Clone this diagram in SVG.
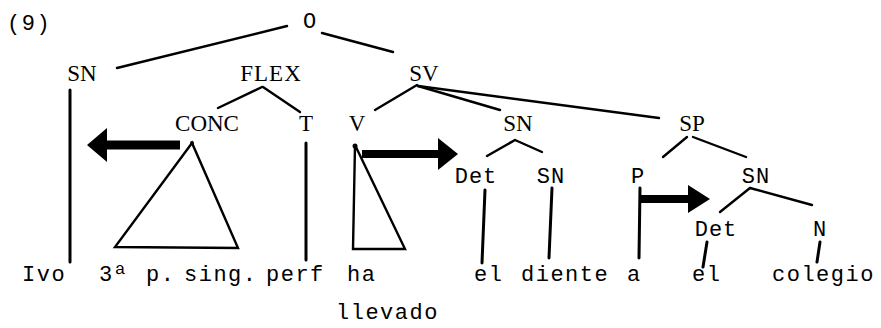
<svg xmlns="http://www.w3.org/2000/svg" width="881" height="328" viewBox="0 0 881 328">
<style>
.serif{font-family:"Liberation Serif","Times New Roman",serif;font-size:23px;fill:#000;text-anchor:middle}
.mono{font-family:"Liberation Mono","Courier New",monospace;font-size:22px;fill:#000;letter-spacing:1.5px}
.monoc{font-family:"Liberation Mono","Courier New",monospace;font-size:22px;fill:#000;text-anchor:middle;letter-spacing:1px}
.ln{stroke:#000;stroke-width:2.4;fill:none;stroke-linecap:round}
.vl{stroke:#000;stroke-width:3;fill:none;stroke-linecap:round}
.arr{fill:#000;stroke:none}
</style>
<rect width="881" height="328" fill="#fff"/>
<text class="mono" x="7" y="30">(9)</text>
<g id="n-O"><text class="monoc" x="310" y="28">O</text></g>
<g id="n-SN1"><text class="serif" x="82" y="81">SN</text></g>
<g id="n-FLEX"><text class="serif" x="271" y="81" style="letter-spacing:1px">FLEX</text></g>
<g id="n-SV"><text class="serif" x="424" y="81">SV</text></g>
<g id="n-CONC"><text class="serif" x="207" y="131">CONC</text></g>
<g id="n-T"><text class="serif" x="306" y="131">T</text></g>
<g id="n-V"><text class="serif" x="357" y="131">V</text></g>
<g id="n-SN2"><text class="serif" x="518" y="131">SN</text></g>
<g id="n-SP"><text class="serif" x="692" y="131">SP</text></g>
<g id="n-Det1"><text class="monoc" x="476" y="183">Det</text></g>
<g id="n-SN3"><text class="monoc" x="551" y="183">SN</text></g>
<g id="n-P"><text class="monoc" x="638" y="183">P</text></g>
<g id="n-SN4"><text class="monoc" x="756" y="183">SN</text></g>
<g id="n-Det2"><text class="monoc" x="716" y="236">Det</text></g>
<g id="n-N"><text class="monoc" x="820" y="236">N</text></g>
<g id="leaves">
<text class="mono" x="22" y="281">Ivo</text>
<text class="mono" x="99" y="281">3ª</text>
<text class="mono" x="146" y="281">p.</text>
<text class="mono" x="184" y="281">sing.</text>
<text class="mono" x="266" y="281">perf</text>
<text class="mono" x="347" y="281">ha</text>
<text class="mono" x="336" y="319">llevado</text>
<text class="mono" x="474" y="281">el</text>
<text class="mono" x="521" y="281">diente</text>
<text class="mono" x="627" y="281">a</text>
<text class="mono" x="692" y="281">el</text>
<text class="mono" x="772" y="281">colegio</text>
</g>
<g id="connectors">
<line class="ln" x1="287" y1="26" x2="117" y2="68"/>
<line class="ln" x1="322" y1="33" x2="393" y2="52"/>
<line class="ln" x1="262" y1="87" x2="218" y2="108"/>
<line class="ln" x1="263" y1="87" x2="300" y2="112"/>
<line class="ln" x1="417" y1="85" x2="375" y2="110"/>
<line class="ln" x1="418" y1="86" x2="500" y2="110"/>
<line class="ln" x1="418" y1="86" x2="659" y2="118"/>
<line class="ln" x1="515" y1="140" x2="487" y2="156"/>
<line class="ln" x1="515" y1="140" x2="542" y2="152"/>
<line class="ln" x1="687" y1="137" x2="663" y2="157"/>
<line class="ln" x1="693" y1="137" x2="746" y2="157"/>
<line class="ln" x1="750" y1="188" x2="720" y2="212"/>
<line class="ln" x1="750" y1="188" x2="812" y2="205"/>
<line class="vl" x1="70" y1="90" x2="70" y2="262"/>
<line class="vl" x1="306" y1="143" x2="306" y2="260"/>
<line class="vl" x1="485" y1="190" x2="482" y2="263"/>
<line class="vl" x1="552" y1="188" x2="549" y2="258"/>
<line class="vl" x1="640" y1="188" x2="639" y2="258"/>
<line class="vl" x1="707" y1="242" x2="703" y2="267"/>
<line class="vl" x1="820" y1="242" x2="817" y2="262"/>
<polygon class="ln" points="192,143 115,247 238,248"/>
<polygon class="ln" points="355,145 353,249 405,249"/>
<circle cx="355" cy="146" r="2.5" fill="#000"/>
<circle cx="192" cy="143" r="2" fill="#000"/>
</g>
<g id="arrows">
<polygon class="arr" points="180,140.5 107,140.5 107,128 87,145 107,162 107,149.5 180,149.5"/>
<polygon class="arr" points="362,150 438,150 438,138 458,154 438,170 438,158 362,158"/>
<polygon class="arr" points="640,195 688,195 688,185 710,199 688,213 688,203 640,203"/>
</g>
</svg>
